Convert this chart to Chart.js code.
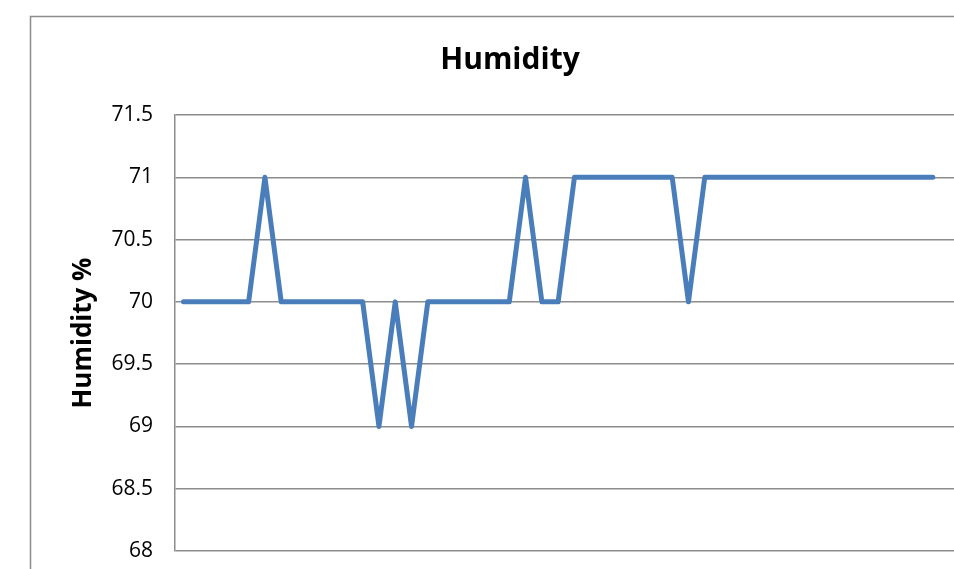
<!DOCTYPE html>
<html>
<head>
<meta charset="utf-8">
<style>
  html, body { margin: 0; padding: 0; background: #ffffff; overflow: hidden; }
  #wrap { width: 954px; height: 569px; position: relative; }
</style>
<script src="https://cdn.jsdelivr.net/npm/chart.js@4.4.1/dist/chart.umd.min.js"></script>
</head>
<body>
<div id="wrap"><canvas id="c" width="954" height="569"></canvas></div>
<script>
// ---- data ----
const chartTitle = "Humidity";
const yAxisTitle = "Humidity %";
const categories = Array.from({length: 47}, (_, i) => i + 1);
const humidity = [
  70, 70, 70, 70, 70, 71, 70, 70, 70, 70,
  70, 70, 69, 70, 69, 70, 70, 70, 70, 70,
  70, 71, 70, 70, 71, 71, 71, 71, 71, 71,
  71, 70, 71, 71, 71, 71, 71, 71, 71, 71,
  71, 71, 71, 71, 71, 71, 71
];
const yTickLabels = ["68", "68.5", "69", "69.5", "70", "70.5", "71", "71.5"];
const yMin = 68, yMax = 71.5, yStep = 0.5;

const points = humidity.map((v, i) => ({x: i, y: v}));

const frame = {
  id: 'frame',
  beforeDraw(chart) {
    const ctx = chart.ctx;
    ctx.save();
    ctx.strokeStyle = '#8c8c8c';
    ctx.lineWidth = 1.5;
    ctx.beginPath();
    ctx.moveTo(30.5, chart.height);
    ctx.lineTo(30.5, 16.5);
    ctx.lineTo(chart.width, 16.5);
    ctx.stroke();
    ctx.restore();
  },
  afterDraw(chart) {
    const ctx = chart.ctx;
    ctx.save();
    ctx.fillStyle = '#000000';
    ctx.font = 'bold 30px "Open Sans"';
    ctx.textAlign = 'center';
    ctx.textBaseline = 'alphabetic';
    ctx.fillText(chartTitle, 510, 69);
    ctx.restore();
  }
};

new Chart(document.getElementById('c'), {
  type: 'line',
  data: {
    labels: categories,
    datasets: [{
      label: yAxisTitle,
      data: points,
      borderColor: '#4a7ebb',
      backgroundColor: '#4a7ebb',
      borderWidth: 5,
      borderJoinStyle: 'round',
      borderCapStyle: 'round',
      pointRadius: 0,
      tension: 0,
      fill: false
    }]
  },
  options: {
    responsive: false,
    animation: false,
    layout: { padding: { top: 115, bottom: 18, left: 0, right: 0 } },
    plugins: { legend: { display: false }, title: { display: false }, tooltip: { enabled: false } },
    scales: {
      x: {
        type: 'linear',
        display: false,
        min: -0.52,
        max: 47.3
      },
      y: {
        min: yMin,
        max: yMax,
        afterFit(scale) { scale.width = 175; scale.paddingTop = 0; scale.paddingBottom = 0; },
        ticks: {
          stepSize: yStep,
          padding: 22,
          color: '#000000',
          font: { family: '"Open Sans"', size: 21 },
          callback: (v) => {
            const idx = Math.round((v - yMin) / yStep);
            return yTickLabels[idx];
          }
        },
        grid: { color: '#8c8c8c', lineWidth: 1.5, drawTicks: false },
        border: { display: true, color: '#8c8c8c', width: 1.5 },
        title: {
          display: true,
          text: yAxisTitle,
          color: '#000000',
          font: { family: '"Open Sans"', size: 26, weight: 'bold' },
          padding: { top: 68, bottom: 0 }
        }
      }
    }
  },
  plugins: [frame]
});
</script>
</body>
</html>
